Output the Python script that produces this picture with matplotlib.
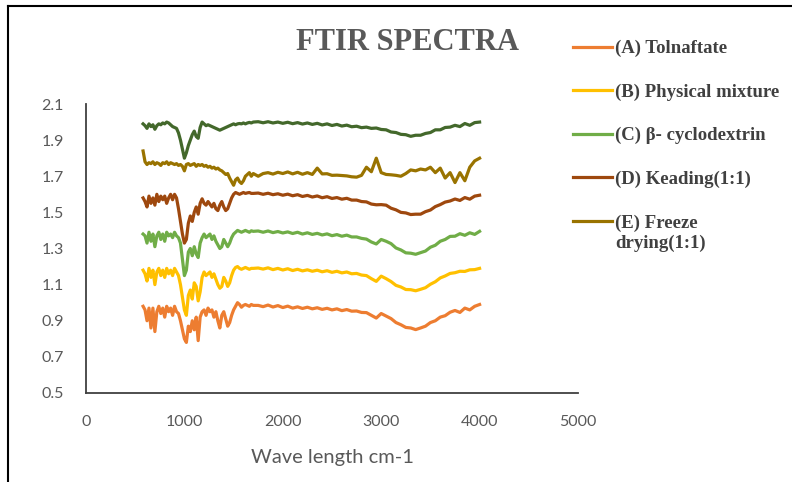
import matplotlib
matplotlib.use("Agg")
import matplotlib.pyplot as plt
from matplotlib.lines import Line2D

# ---------------- data ----------------
wn_low = [580, 600, 620, 640, 660, 680, 700, 720, 740, 760,
          780, 800, 820, 840, 860, 880, 900, 920, 940, 960,
          980, 1000, 1020, 1040, 1060, 1080, 1100, 1120, 1140, 1160,
          1180, 1200, 1220, 1240, 1260, 1280, 1300, 1320, 1340, 1360,
          1380, 1400, 1420, 1440, 1460, 1480, 1500, 1520, 1540, 1560,
          1580, 1600, 1620, 1640, 1660, 1680, 1700]
wn_high = [1750, 1800, 1850, 1900, 1950, 2000, 2050, 2100, 2150, 2200,
           2250, 2300, 2350, 2400, 2450, 2500, 2550, 2600, 2650, 2700,
           2750, 2800, 2850, 2900, 2950, 3000, 3050, 3100, 3150, 3200,
           3250, 3300, 3350, 3400, 3450, 3500, 3550, 3600, 3650, 3700,
           3750, 3800, 3850, 3900, 3950, 4000]
wavenumber = wn_low + wn_high

tolnaftate = [0.98, 0.96, 0.90, 0.97, 0.86, 0.97, 0.84, 0.95, 0.98, 0.94,
              0.97, 0.92, 0.98, 0.95, 0.97, 0.93, 0.98, 0.95, 0.94, 0.90,
              0.85, 0.80, 0.78, 0.87, 0.84, 0.90, 0.85, 0.92, 0.79, 0.92,
              0.95, 0.96, 0.93, 0.97, 0.95, 0.96, 0.92, 0.95, 0.90, 0.86,
              0.93, 0.95, 0.91, 0.87, 0.89, 0.93, 0.96, 0.98, 1.00, 0.99,
              0.975, 0.985, 0.99, 0.985, 0.98, 0.99, 0.985,
              0.985, 0.978, 0.987, 0.976, 0.984, 0.973, 0.981, 0.970, 0.977, 0.968,
              0.975, 0.966, 0.972, 0.963, 0.969, 0.960, 0.966, 0.956, 0.962, 0.953,
              0.954, 0.946, 0.945, 0.930, 0.915, 0.940, 0.926, 0.912, 0.890, 0.878,
              0.863, 0.860, 0.851, 0.860, 0.870, 0.890, 0.900, 0.920, 0.928, 0.947,
              0.957, 0.946, 0.970, 0.960, 0.980, 0.99]

physical_mixture = [1.18, 1.16, 1.12, 1.19, 1.14, 1.18, 1.10, 1.17, 1.19, 1.15,
                    1.18, 1.14, 1.19, 1.16, 1.18, 1.15, 1.19, 1.17, 1.15, 1.10,
                    1.03, 0.96, 0.93, 1.04, 1.07, 1.02, 1.11, 1.09, 1.01, 1.06,
                    1.14, 1.17, 1.15, 1.16, 1.17, 1.14, 1.16, 1.13, 1.10, 1.08,
                    1.09, 1.14, 1.12, 1.09, 1.11, 1.15, 1.18, 1.195, 1.20, 1.19,
                    1.185, 1.19, 1.195, 1.19, 1.185, 1.19, 1.19,
                    1.192, 1.186, 1.193, 1.183, 1.190, 1.181, 1.188, 1.178, 1.185, 1.176,
                    1.182, 1.174, 1.180, 1.171, 1.177, 1.168, 1.174, 1.165, 1.170, 1.160,
                    1.162, 1.153, 1.150, 1.133, 1.118, 1.147, 1.133, 1.117, 1.096, 1.087,
                    1.073, 1.072, 1.066, 1.074, 1.083, 1.102, 1.116, 1.137, 1.148, 1.162,
                    1.166, 1.174, 1.173, 1.182, 1.183, 1.19]

beta_cyclodextrin = [1.38, 1.37, 1.33, 1.39, 1.34, 1.38, 1.31, 1.37, 1.39, 1.35,
                     1.38, 1.34, 1.39, 1.37, 1.38, 1.36, 1.39, 1.37, 1.36, 1.33,
                     1.24, 1.15, 1.18, 1.28, 1.30, 1.26, 1.31, 1.27, 1.25, 1.33,
                     1.36, 1.38, 1.36, 1.37, 1.38, 1.35, 1.37, 1.34, 1.32, 1.30,
                     1.31, 1.35, 1.33, 1.31, 1.33, 1.36, 1.38, 1.39, 1.40, 1.395,
                     1.39, 1.395, 1.40, 1.395, 1.39, 1.398, 1.395,
                     1.397, 1.390, 1.397, 1.388, 1.394, 1.386, 1.392, 1.383, 1.390, 1.380,
                     1.387, 1.378, 1.384, 1.375, 1.381, 1.371, 1.377, 1.368, 1.374, 1.364,
                     1.364, 1.356, 1.352, 1.336, 1.325, 1.350, 1.340, 1.327, 1.303, 1.292,
                     1.276, 1.274, 1.268, 1.277, 1.286, 1.307, 1.318, 1.340, 1.350, 1.367,
                     1.368, 1.382, 1.373, 1.387, 1.378, 1.395]

keading = [1.58, 1.56, 1.53, 1.59, 1.55, 1.58, 1.54, 1.60, 1.56, 1.59,
           1.57, 1.59, 1.55, 1.58, 1.60, 1.57, 1.60, 1.58, 1.52, 1.45,
           1.38, 1.33, 1.35, 1.44, 1.48, 1.45, 1.50, 1.53, 1.49, 1.55,
           1.575, 1.55, 1.54, 1.56, 1.545, 1.53, 1.55, 1.52, 1.51, 1.54,
           1.56, 1.53, 1.51, 1.52, 1.55, 1.58, 1.60, 1.61, 1.605, 1.60,
           1.605, 1.61, 1.605, 1.608, 1.61, 1.605, 1.605,
           1.607, 1.600, 1.606, 1.598, 1.603, 1.595, 1.601, 1.592, 1.598, 1.588,
           1.594, 1.585, 1.591, 1.581, 1.587, 1.577, 1.582, 1.573, 1.578, 1.568,
           1.568, 1.560, 1.558, 1.546, 1.542, 1.543, 1.540, 1.523, 1.514, 1.500,
           1.497, 1.488, 1.490, 1.490, 1.504, 1.513, 1.532, 1.543, 1.557, 1.563,
           1.574, 1.566, 1.582, 1.573, 1.590, 1.595]

freeze_drying = [1.84, 1.78, 1.765, 1.775, 1.77, 1.78, 1.765, 1.775, 1.77, 1.76,
                 1.775, 1.77, 1.78, 1.765, 1.775, 1.77, 1.765, 1.77, 1.76, 1.765,
                 1.755, 1.73, 1.765, 1.77, 1.76, 1.765, 1.77, 1.755, 1.765, 1.76,
                 1.765, 1.755, 1.76, 1.75, 1.755, 1.745, 1.75, 1.74, 1.745, 1.735,
                 1.73, 1.72, 1.71, 1.715, 1.69, 1.67, 1.65, 1.68, 1.69, 1.67,
                 1.66, 1.675, 1.70, 1.71, 1.72, 1.70, 1.715,
                 1.70, 1.715, 1.72, 1.712, 1.722, 1.715, 1.724, 1.713, 1.722, 1.711,
                 1.720, 1.710, 1.745, 1.713, 1.714, 1.705, 1.706, 1.704, 1.702, 1.697,
                 1.695, 1.705, 1.75, 1.725, 1.80, 1.72, 1.71, 1.708, 1.705, 1.70,
                 1.715, 1.735, 1.73, 1.74, 1.735, 1.75, 1.72, 1.745, 1.69, 1.72,
                 1.665, 1.72, 1.675, 1.75, 1.785, 1.80]

unlabelled_top = [1.99, 1.98, 1.965, 1.99, 1.975, 1.985, 1.96, 1.98, 1.99, 1.985,
                  1.995, 1.99, 2.0, 1.995, 1.985, 1.975, 1.97, 1.965, 1.94, 1.90,
                  1.85, 1.80, 1.83, 1.87, 1.90, 1.93, 1.95, 1.92, 1.91, 1.97,
                  2.0, 1.99, 1.98, 1.985, 1.98, 1.975, 1.97, 1.965, 1.96, 1.955,
                  1.96, 1.965, 1.97, 1.975, 1.98, 1.985, 1.99, 1.985, 1.99, 1.992,
                  1.99, 1.995, 1.99, 1.995, 1.998, 1.995, 2.0,
                  2.002, 1.996, 2.002, 1.995, 2.000, 1.993, 1.999, 1.991, 1.997, 1.989,
                  1.995, 1.987, 1.993, 1.984, 1.990, 1.981, 1.987, 1.978, 1.983, 1.974,
                  1.977, 1.969, 1.972, 1.965, 1.967, 1.959, 1.957, 1.945, 1.942, 1.932,
                  1.930, 1.921, 1.927, 1.927, 1.937, 1.942, 1.957, 1.957, 1.970, 1.972,
                  1.982, 1.975, 1.992, 1.982, 1.997, 2.0]

labels = ["(A) Tolnaftate", "(B) Physical mixture", "(C) \u03b2- cyclodextrin",
          "(D) Keading(1:1)", "(E) Freeze"]
label_extra = "drying(1:1)"
series = [tolnaftate, physical_mixture, beta_cyclodextrin, keading, freeze_drying]
colors = ["#ED7D31", "#FFC000", "#70AD47", "#9E480E", "#997300"]
top_color = "#43682B"

x_ticks = [0, 1000, 2000, 3000, 4000, 5000]
y_ticks = [0.5, 0.7, 0.9, 1.1, 1.3, 1.5, 1.7, 1.9, 2.1]

# ---------------- figure ----------------
fig = plt.figure(figsize=(7.92, 4.82), dpi=100)
fig.patch.set_facecolor("white")
ax = fig.add_axes([86 / 792, 1 - 393 / 482, 492 / 792, 289 / 482])

handles = []
for vals, col, lab in zip(series, colors, labels):
    h, = ax.plot(wavenumber, vals, color=col, lw=2.3, label=lab,
                 solid_joinstyle="round")
    handles.append(h)
ax.plot(wavenumber, unlabelled_top, color=top_color, lw=2.3,
        solid_joinstyle="round")

ax.set_xlim(0, 5000)
ax.set_ylim(0.5, 2.1)
ax.set_xticks(x_ticks)
ax.set_yticks(y_ticks)
ax.set_yticklabels([f"{v:.1f}" for v in y_ticks])
for s in ["top", "right"]:
    ax.spines[s].set_visible(False)
for s in ["left", "bottom"]:
    ax.spines[s].set_color("#404040")
    ax.spines[s].set_linewidth(1.3)
ax.tick_params(axis="both", length=0, labelsize=11.5, labelcolor="#595959")
ax.tick_params(axis="y", pad=16)
ax.tick_params(axis="x", pad=16)
for lab in ax.get_xticklabels() + ax.get_yticklabels():
    lab.set_fontfamily("Lato")

ax.set_xlabel("Wave length cm-1", fontsize=14.5, color="#595959",
              fontfamily="Lato", labelpad=14)

fig.text(408 / 792, 1 - 42 / 482, "FTIR SPECTRA", ha="center", va="center",
         fontsize=22, fontweight="bold", color="#595959",
         fontfamily="Liberation Serif")

legend_font = {"family": "Liberation Serif", "weight": "bold", "size": 13.5}
leg = fig.legend(handles=handles, loc="upper left",
                 bbox_to_anchor=(573 / 792, 1 - 40 / 482),
                 frameon=False, borderpad=0, borderaxespad=0,
                 handlelength=2.1, handletextpad=0.12, labelspacing=1.4,
                 prop=legend_font)
for t in leg.get_texts():
    t.set_color("#404040")
fig.text(615 / 792, 1 - 243 / 482, label_extra, ha="left", va="center",
         color="#404040", fontfamily="Liberation Serif", fontweight="bold",
         fontsize=13.5)

# outer frame (left and top edges of the original chart border)
fig.add_artist(Line2D([8 / 792, 8 / 792], [0, 1 - 6 / 482],
                      transform=fig.transFigure, color="black", lw=1.5))
fig.add_artist(Line2D([8 / 792, 1], [1 - 6 / 482, 1 - 6 / 482],
                      transform=fig.transFigure, color="black", lw=1.5))

fig.savefig("out.png", dpi=100)
